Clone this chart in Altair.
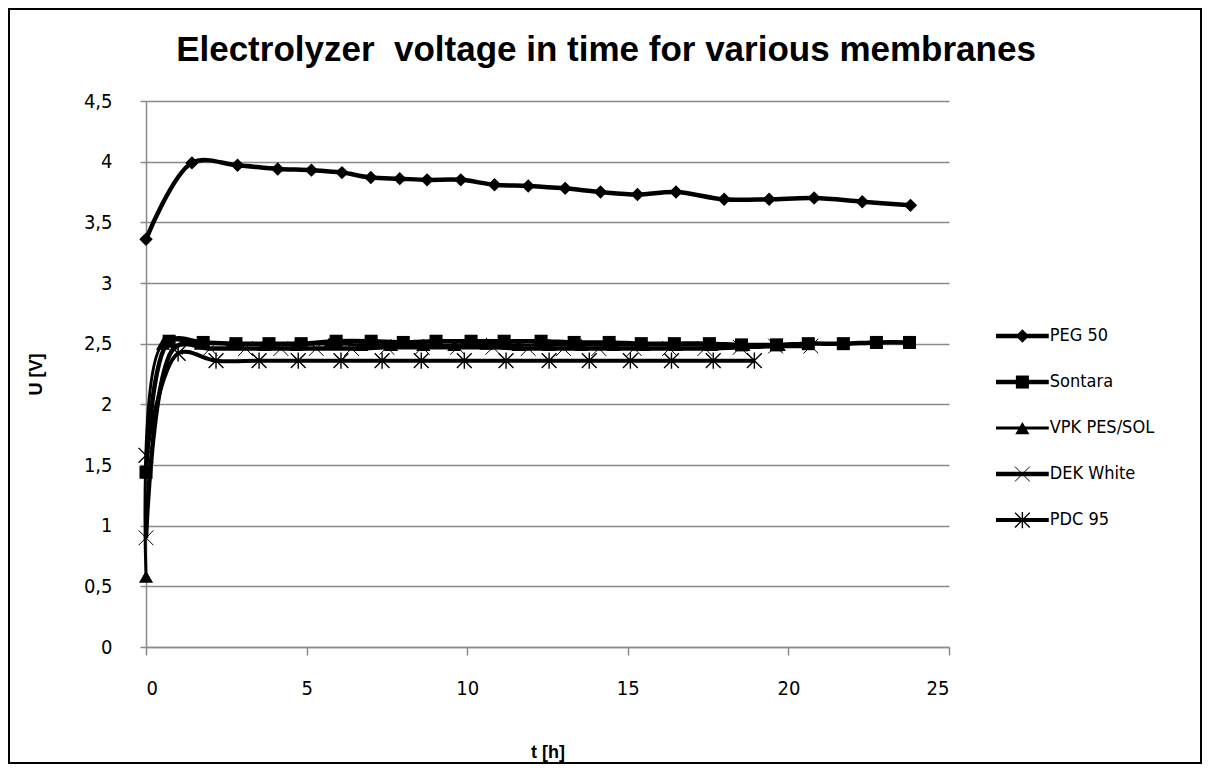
import altair as alt
import pandas as pd

# ---------------- data ----------------
series_names = ["PEG 50", "Sontara", "VPK PES/SOL", "DEK White", "PDC 95"]

peg_t = [0, 1.43, 2.85, 4.1, 5.15, 6.1, 7.0, 7.9, 8.75, 9.8, 10.85, 11.9, 13.05,
         14.15, 15.3, 16.5, 18.0, 19.4, 20.8, 22.3, 23.8]
peg_u = [3.36, 3.99, 3.97, 3.94, 3.93, 3.91, 3.87, 3.86, 3.85, 3.85, 3.81, 3.80, 3.78,
         3.75, 3.73, 3.75, 3.69, 3.69, 3.70, 3.67, 3.64]

sontara_t = [0, 0.72, 1.78, 2.80, 3.83, 4.83, 5.92, 7.01, 8.01, 9.03, 10.12, 11.15,
             12.3, 13.33, 14.42, 15.42, 16.45, 17.54, 18.54, 19.63, 20.62, 21.71,
             22.74, 23.77]
sontara_u = [1.44, 2.52, 2.51, 2.50, 2.50, 2.50, 2.52, 2.52, 2.51, 2.52, 2.52, 2.52,
             2.52, 2.51, 2.51, 2.50, 2.50, 2.50, 2.49, 2.49, 2.50, 2.50, 2.51, 2.51]

vpk_t = [0, 0.53, 1.71, 2.65, 3.68, 4.67, 5.7, 6.7, 7.63, 8.63, 9.6, 10.6, 11.6,
         12.55, 13.55, 14.55, 15.5, 16.5, 17.6, 18.6, 19.7]
vpk_u = [0.58, 2.50, 2.50, 2.50, 2.49, 2.49, 2.50, 2.49, 2.49, 2.49, 2.49, 2.50, 2.49,
         2.49, 2.49, 2.49, 2.49, 2.49, 2.49, 2.49, 2.49]

dek_t = [0, 0.9, 2.0, 3.1, 4.2, 5.3, 6.4, 7.5, 8.6, 9.7, 10.8, 11.9, 13.0, 14.1,
         15.2, 16.3, 17.4, 18.5, 19.6, 20.7]
dek_u = [0.90, 2.47, 2.46, 2.46, 2.46, 2.46, 2.46, 2.47, 2.47, 2.47, 2.47, 2.46, 2.46,
         2.46, 2.46, 2.46, 2.46, 2.47, 2.48, 2.48]

pdc_t = [0, 1.0, 2.18, 3.52, 4.74, 6.07, 7.35, 8.57, 9.91, 11.21, 12.55, 13.8, 15.08,
         16.36, 17.66, 18.94]
pdc_u = [1.58, 2.42, 2.36, 2.36, 2.36, 2.36, 2.36, 2.36, 2.36, 2.36, 2.36, 2.36, 2.36,
         2.36, 2.36, 2.36]

x_ticks = [0, 5, 10, 15, 20, 25]
y_ticks = [0, 0.5, 1, 1.5, 2, 2.5, 3, 3.5, 4, 4.5]

title_text = "Electrolyzer\u00a0 voltage in time for various membranes"

# ---------------- table ----------------
all_t = [peg_t, sontara_t, vpk_t, dek_t, pdc_t]
all_u = [peg_u, sontara_u, vpk_u, dek_u, pdc_u]
rows = []
for name, ts, us in zip(series_names, all_t, all_u):
    for t, u in zip(ts, us):
        rows.append({"series": name, "t": t, "U": u})
df = pd.DataFrame(rows)

leg_df = pd.DataFrame({"series": series_names, "rank": list(range(len(series_names)))})

# ---------------- styles ----------------
GRID = "#8a8a8a"
X_PATH = "M-1,-1L1,1M-1,1L1,-1"
AST_PATH = "M-1,-1L1,1M-1,1L1,-1M0,-1.1L0,1.1"
style = {
    "PEG 50":      dict(lw=4.5, shape="diamond",     size=180, filled=True,  sw=1),
    "Sontara":     dict(lw=4.5, shape="square",      size=170, filled=True,  sw=1),
    "VPK PES/SOL": dict(lw=3.0, shape="triangle-up", size=200, filled=True,  sw=1),
    "DEK White":   dict(lw=4.5, shape=X_PATH,        size=220, filled=False, sw=1),
    "PDC 95":      dict(lw=4.0, shape=AST_PATH,      size=220, filled=False, sw=1.4),
}

LABEL_FONT = "Liberation Sans Narrow, DejaVu Sans Condensed, Liberation Sans, sans-serif"

x_enc = alt.X(
    "t:Q",
    scale=alt.Scale(domain=[0, 25], nice=False),
    axis=alt.Axis(values=x_ticks, title="t [h]", grid=False, domainColor=GRID,
                  domainWidth=1.5, tickColor=GRID, tickSize=8, tickWidth=1.5,
                  labelFont=LABEL_FONT, labelFontSize=20, labelColor="#000",
                  labelPadding=23, titleFont="Liberation Sans", titleFontSize=18,
                  titleFontWeight="bold", titleColor="#000", titlePadding=45),
)
y_enc = alt.Y(
    "U:Q",
    scale=alt.Scale(domain=[0, 4.5], nice=False),
    axis=alt.Axis(values=y_ticks, title="U [V]", grid=True, gridColor=GRID,
                  gridWidth=1.5, domainColor=GRID, domainWidth=1.5, tickColor=GRID,
                  tickSize=6, tickWidth=1.5,
                  labelExpr="replace(format(datum.value, '.1~f'), '.', ',')",
                  labelFont=LABEL_FONT, labelFontSize=20, labelColor="#000",
                  labelPadding=28, titleFont="Liberation Sans", titleFontSize=18,
                  titleFontWeight="bold", titleColor="#000", titlePadding=38),
)

layers = []
for name in series_names:
    st = style[name]
    sub = alt.Chart(df).transform_filter(alt.datum.series == name)
    layers.append(
        sub.mark_line(interpolate="catmull-rom", color="black", strokeWidth=st["lw"])
        .encode(x=x_enc, y=y_enc)
    )
    if st["filled"]:
        pt = sub.mark_point(shape=st["shape"], size=st["size"], filled=True,
                            color="black", opacity=1)
    else:
        pt = sub.mark_point(shape=st["shape"], size=st["size"], filled=False,
                            color="black", strokeWidth=st["sw"], opacity=1)
    layers.append(pt.encode(x=x_enc, y=y_enc))

# outer frame and chart title (decoration)
one = alt.Data(values=[{}])
frame = alt.Chart(one).mark_rect(
    fill=None, stroke="black", strokeWidth=2
).encode(x=alt.value(-137), x2=alt.value(1055), y=alt.value(-92), y2=alt.value(662))
title = alt.Chart(one).mark_text(
    text=title_text, font="Liberation Sans", fontSize=35, fontWeight="bold",
    color="black", align="center", baseline="alphabetic"
).encode(x=alt.value(460), y=alt.value(-40))

main = alt.layer(frame, title, *layers).properties(width=803, height=546)

# ---------------- legend panel ----------------
lx = alt.Scale(domain=[0, 3.6], nice=False, zero=False)
ly = alt.Scale(domain=[-5.11, 6.76], reverse=True, nice=False, zero=False)
leg_layers = []
for name in series_names:
    st = style[name]
    sub = alt.Chart(leg_df).transform_filter(alt.datum.series == name)
    leg_layers.append(
        sub.mark_rule(color="black", strokeWidth=st["lw"]).encode(
            x=alt.X(datum=0, scale=lx, axis=None), x2=alt.X2(datum=1),
            y=alt.Y("rank:Q", scale=ly, axis=None))
    )
    if st["filled"]:
        pt = sub.mark_point(shape=st["shape"], size=st["size"], filled=True,
                            color="black", opacity=1)
    else:
        pt = sub.mark_point(shape=st["shape"], size=st["size"], filled=False,
                            color="black", strokeWidth=st["sw"], opacity=1)
    leg_layers.append(pt.encode(x=alt.X(datum=0.5, scale=lx, axis=None),
                                y=alt.Y("rank:Q", scale=ly, axis=None)))
leg_layers.append(
    alt.Chart(leg_df).mark_text(align="left", baseline="middle", dx=1,
                                font=LABEL_FONT, fontSize=18, color="black")
    .encode(x=alt.X(datum=1, scale=lx, axis=None),
            y=alt.Y("rank:Q", scale=ly, axis=None), text="series:N")
)
legend = alt.layer(*leg_layers).properties(width=190, height=546)

chart = alt.hconcat(main, legend, spacing=47, bounds="flush").properties(
    padding=0,
    background="white",
).configure_view(stroke=None)

chart.save("out.html", embed_options={"renderer": "svg", "actions": False})
